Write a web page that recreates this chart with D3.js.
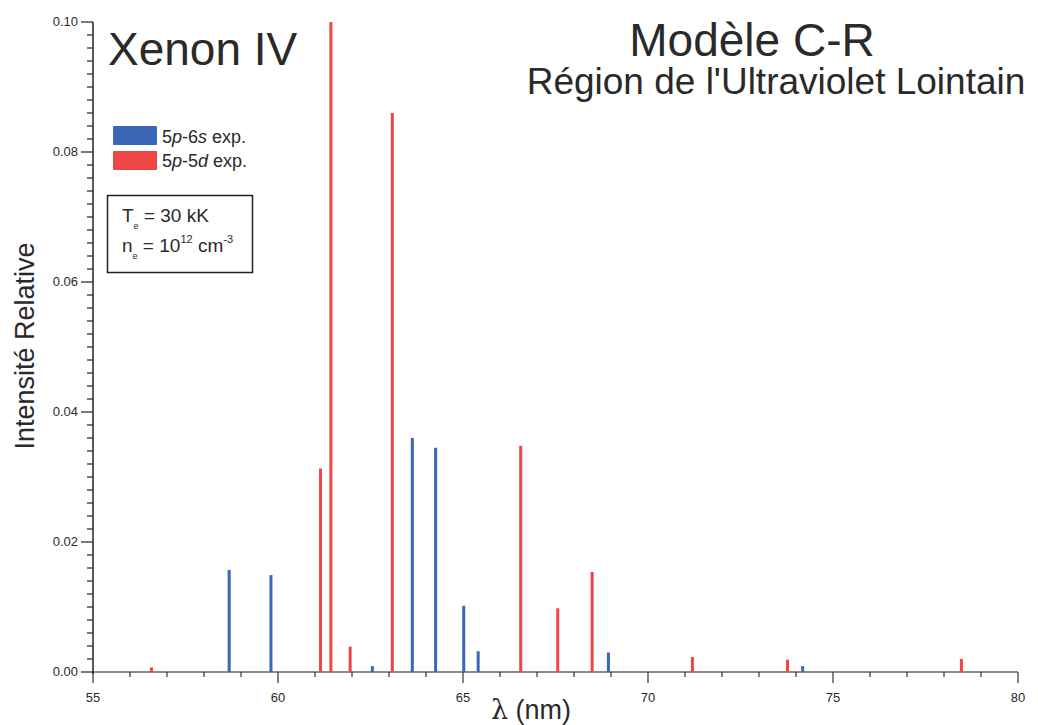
<!DOCTYPE html>
<html>
<head>
<meta charset="utf-8">
<script src="https://cdn.jsdelivr.net/npm/d3@7"></script>
<style>
  body { margin: 0; background: #fff; }
  svg text { font-family: "Liberation Sans", Arial, sans-serif; fill: #2a2a2a; }
</style>
</head>
<body>
<svg id="chart" width="1038" height="725"></svg>
<script>
// Xe IV far-UV lines, collisional-radiative model (Te = 30 kK, ne = 1e12 cm^-3)
const lambda6s = [58.68, 59.81, 62.55, 63.63, 64.26, 65.02, 65.41, 68.93, 74.18];
const inten6s  = [0.0157, 0.0149, 0.0009, 0.0360, 0.0345, 0.0102, 0.0032, 0.0030, 0.0009];

const lambda5d = [56.58, 61.15, 61.43, 61.95, 63.09, 66.56, 67.56, 68.49, 71.20, 73.77, 78.47];
const inten5d  = [0.0007, 0.0313, 0.1000, 0.0039, 0.0860, 0.0348, 0.0098, 0.0154, 0.0023, 0.0019, 0.0020];

const xTicks = [55, 60, 65, 70, 75, 80];
const yTicks = [0.00, 0.02, 0.04, 0.06, 0.08, 0.10];

const svg = d3.select("#chart");
const x = d3.scaleLinear().domain([55, 80]).range([93, 1018]);
const y = d3.scaleLinear().domain([0, 0.10]).range([672, 22]);

const blue = "#3a66b8", red = "#ee4545";

// minor ticks: every 1 nm and every 0.002
const xMinor = d3.range(55, 80.01, 1);
const yMinor = d3.range(0, 0.1001, 0.002);

// x axis
const gx = svg.append("g");
gx.append("line").attr("x1", x(55)).attr("x2", x(80)).attr("y1", y(0)).attr("y2", y(0))
  .attr("stroke", "#666").attr("stroke-width", 1.5);
gx.selectAll("line.mn").data(xMinor).join("line").attr("class", "mn")
  .attr("x1", d => x(d)).attr("x2", d => x(d))
  .attr("y1", y(0)).attr("y2", (d, i) => y(0) + (i % 5 === 0 ? 11 : 5))
  .attr("stroke", "#333").attr("stroke-width", 1.2);
gx.selectAll("text").data(xTicks).join("text")
  .attr("x", d => x(d)).attr("y", y(0) + 30)
  .attr("text-anchor", "middle").attr("font-size", 13).attr("fill", "#444").text(d => d);

// y axis
const gy = svg.append("g");
gy.append("line").attr("x1", x(55)).attr("x2", x(55)).attr("y1", y(0) + 2).attr("y2", y(0.10))
  .attr("stroke", "#222").attr("stroke-width", 1.5);
gy.selectAll("line.mn").data(yMinor).join("line").attr("class", "mn")
  .attr("x1", x(55)).attr("y1", d => y(d)).attr("y2", d => y(d))
  .attr("x2", (d, i) => x(55) - (i % 10 === 0 ? 12 : 6))
  .attr("stroke", "#222").attr("stroke-width", 1.2);
gy.selectAll("text").data(yTicks).join("text")
  .attr("x", x(55) - 15).attr("y", d => y(d) + 4)
  .attr("text-anchor", "end").attr("font-size", 13).attr("fill", "#444").text(d => d.toFixed(2));

// spectral lines
function drawLines(xs, vs, color) {
  svg.append("g").selectAll("line").data(xs).join("line")
    .attr("x1", d => x(d)).attr("x2", d => x(d))
    .attr("y1", y(0)).attr("y2", (d, i) => y(vs[i]))
    .attr("stroke", color).attr("stroke-width", 3);
}
drawLines(lambda6s, inten6s, blue);
drawLines(lambda5d, inten5d, red);

// axis titles
svg.append("text").attr("transform", "translate(34,346) rotate(-90)")
  .attr("text-anchor", "middle").attr("font-size", 27).text("Intensité Relative");
const xl = svg.append("text").attr("x", 531).attr("y", 719).attr("text-anchor", "middle").attr("font-size", 27);
xl.append("tspan").attr("font-family", "DejaVu Serif, serif").text("λ");
xl.append("tspan").text(" (nm)");

// titles
svg.append("text").attr("x", 108).attr("y", 65).attr("font-size", 46).attr("fill", "#333").text("Xenon IV");
svg.append("text").attr("x", 752).attr("y", 56).attr("text-anchor", "middle").attr("font-size", 46).text("Modèle C-R");
svg.append("text").attr("x", 776).attr("y", 94).attr("text-anchor", "middle").attr("font-size", 37).text("Région de l'Ultraviolet Lointain");

// legend
const legend = [
  { color: blue, a: "5", b: "p", c: "-6", d: "s", e: " exp." },
  { color: red,  a: "5", b: "p", c: "-5", d: "d", e: " exp." }
];
const lg = svg.append("g");
legend.forEach((l, i) => {
  lg.append("rect").attr("x", 113).attr("y", 126 + i * 25).attr("width", 44).attr("height", 19)
    .attr("fill", l.color).attr("rx", 1);
  const t = lg.append("text").attr("x", 162).attr("y", 143 + i * 24).attr("font-size", 18);
  t.append("tspan").text(l.a);
  t.append("tspan").attr("font-style", "italic").text(l.b);
  t.append("tspan").text(l.c);
  t.append("tspan").attr("font-style", "italic").text(l.d);
  t.append("tspan").text(l.e);
});

// plasma conditions box
svg.append("rect").attr("x", 107.5).attr("y", 195.5).attr("width", 145).attr("height", 77)
  .attr("fill", "none").attr("stroke", "#222").attr("stroke-width", 1.5);
const t1 = svg.append("text").attr("x", 122).attr("y", 222).attr("font-size", 19);
t1.append("tspan").text("T");
t1.append("tspan").attr("dy", 7).attr("font-size", 9).text("e");
t1.append("tspan").attr("dy", -7).text(" = 30 kK");
const t2 = svg.append("text").attr("x", 122).attr("y", 252).attr("font-size", 19);
t2.append("tspan").text("n");
t2.append("tspan").attr("dy", 7).attr("font-size", 9).text("e");
t2.append("tspan").attr("dy", -7).text(" = 10");
t2.append("tspan").attr("dy", -9).attr("font-size", 11).text("12");
t2.append("tspan").attr("dy", 9).text(" cm");
t2.append("tspan").attr("dy", -9).attr("font-size", 11).text("-3");
</script>
</body>
</html>
